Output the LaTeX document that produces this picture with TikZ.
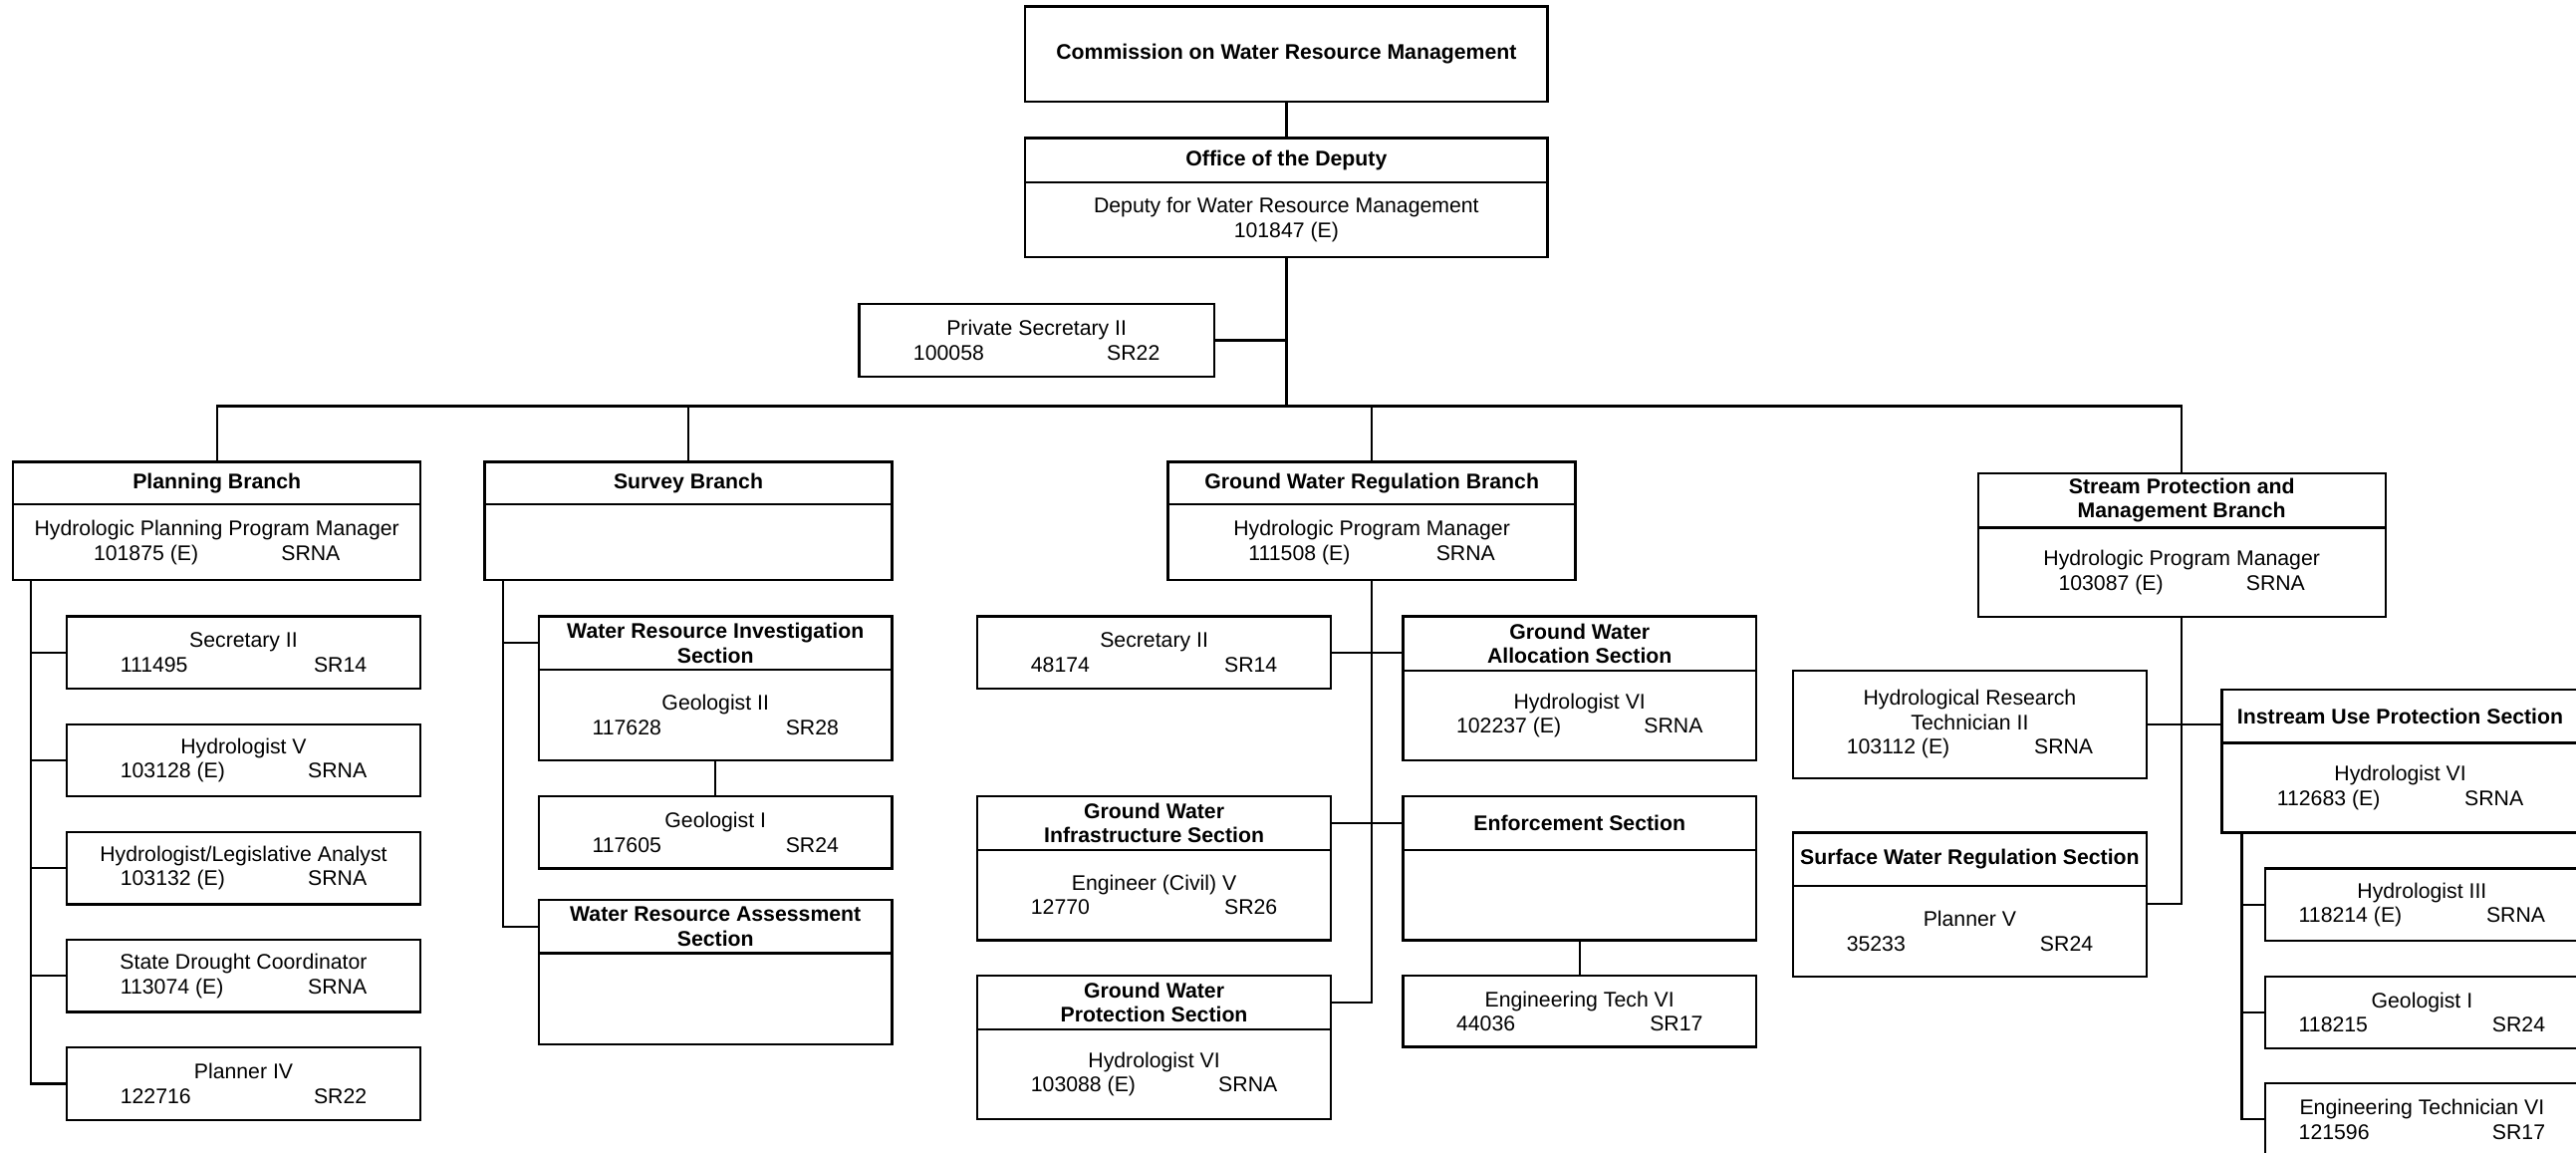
\documentclass[tikz,border=0pt]{standalone}
\usepackage{fontspec}
\setmainfont{Liberation Sans}
\usetikzlibrary{positioning}
\newlength\upx
\setlength\upx{0.03cm}
\newcommand{\chartfont}{\fontsize{11pt}{12.7pt}\selectfont}
\newcommand{\codes}[2]{\makebox[150\upx]{#1\hfill#2}}
\tikzset{
  box/.style={draw, line width=1.2pt, inner sep=0pt, outer sep=0pt, align=center, anchor=north west, font=\chartfont},
  head/.style={box, font=\chartfont\bfseries},
  link/.style={line width=1.2pt},
}

\begin{document}
\begin{tikzpicture}[x=0.03cm, y=-0.03cm]
    \useasboundingbox (0,0) rectangle (1568,701.5);
    \clip (0,0) rectangle (1568,701.5);

    % top of the chart
    \node[head, minimum width=318*\upx, minimum height=58*\upx] (cwrm) at (624,4) {Commission on Water Resource Management};
    \node[head, minimum width=318*\upx, minimum height=27*\upx] (odep) at (624,84) {Office of the Deputy};
    \node[box, minimum width=318*\upx, minimum height=45.5*\upx, below=0pt of odep] (dep) {Deputy for Water Resource Management\\101847 (E)};
    \node[box, minimum width=216*\upx, minimum height=44*\upx] (psec) at (523,185) {Private Secretary II\\\codes{100058}{SR22}};
    \coordinate (bus) at ([yshift=-90.5*\upx]dep.south);

    % branches
    \node[head, minimum width=248*\upx, minimum height=26*\upx] (plan) at (8,281) {Planning Branch};
    \node[box, minimum width=248*\upx, minimum height=46*\upx, below=0pt of plan] (planpm) {Hydrologic Planning Program Manager\\\codes{101875 (E)}{SRNA}};
    \node[head, minimum width=248*\upx, minimum height=26*\upx] (survey) at (295,281) {Survey Branch};
    \node[box, minimum width=248*\upx, minimum height=46*\upx, below=0pt of survey] (surveypm) {};
    \node[head, minimum width=248*\upx, minimum height=26*\upx] (gwr) at (711,281) {Ground Water Regulation Branch};
    \node[box, minimum width=248*\upx, minimum height=46*\upx, below=0pt of gwr] (gwrpm) {Hydrologic Program Manager\\\codes{111508 (E)}{SRNA}};
    \node[head, minimum width=248*\upx, minimum height=33*\upx] (stream) at (1204,288) {Stream Protection and\\Management Branch};
    \node[box, minimum width=248*\upx, minimum height=54.5*\upx, below=0pt of stream] (streampm) {Hydrologic Program Manager\\\codes{103087 (E)}{SRNA}};

    \draw[link] (cwrm.south) -- (odep.north);
    \draw[link] (dep.south) -- (bus);
    \draw[link] (psec.east) -- (psec.east -| bus);
    \draw[link] (plan.north) |- (bus) -| (stream.north);
    \draw[link] (survey.north) -- (survey.north |- bus);
    \draw[link] (gwr.north) -- (gwr.north |- bus);

    % planning branch
    \foreach \k/\ttl/\num/\grd in {0/Secretary II/111495/SR14,
        1/Hydrologist V/103128 (E)/SRNA,
        2/{Hydrologist/Legislative Analyst}/103132 (E)/SRNA,
        3/State Drought Coordinator/113074 (E)/SRNA,
        4/Planner IV/122716/SR22} {
        \node[box, minimum width=215.5*\upx, minimum height=44*\upx] (pc\k) at (40.5, 375+65.6*\k) {\ttl\\\codes{\num}{\grd}};
    }
    \coordinate (ptrunk) at ([xshift=11*\upx]planpm.south west);
    \draw[link] (ptrunk) |- (pc4.west);
    \foreach \k in {0,...,3} {
        \draw[link] (pc\k.west) -- (pc\k.west -| ptrunk);
    }

    % survey branch
    \node[head, minimum width=215*\upx, minimum height=32.5*\upx] (wri) at (328,375) {Water Resource Investigation\\Section};
    \node[box, minimum width=215*\upx, minimum height=55*\upx, below=0pt of wri] (wripm) {Geologist II\\\codes{117628}{SR28}};
    \node[box, minimum width=215*\upx, minimum height=44*\upx] (geoi) at (328,484.5) {Geologist I\\\codes{117605}{SR24}};
    \node[head, minimum width=215*\upx, minimum height=32.5*\upx] (wra) at (328,547.5) {Water Resource Assessment\\Section};
    \node[box, minimum width=215*\upx, minimum height=55.5*\upx, below=0pt of wra] (wrapm) {};
    \coordinate (strunk) at ([xshift=11*\upx]surveypm.south west);
    \draw[link] (strunk) |- (wra.west);
    \draw[link] (wri.west) -- (wri.west -| strunk);
    \draw[link] (wripm.south) -- (geoi.north);

    % ground water regulation branch
    \node[box, minimum width=215*\upx, minimum height=44*\upx] (gwsec) at (595,375) {Secretary II\\\codes{48174}{SR14}};
    \node[head, minimum width=215*\upx, minimum height=32.5*\upx] (gwinfra) at (595,484.5) {Ground Water\\Infrastructure Section};
    \node[box, minimum width=215*\upx, minimum height=55*\upx, below=0pt of gwinfra] (gwinfrapm) {Engineer (Civil) V\\\codes{12770}{SR26}};
    \node[head, minimum width=215*\upx, minimum height=33*\upx] (gwprot) at (595,593.5) {Ground Water\\Protection Section};
    \node[box, minimum width=215*\upx, minimum height=54.5*\upx, below=0pt of gwprot] (gwprotpm) {Hydrologist VI\\\codes{103088 (E)}{SRNA}};
    \node[head, minimum width=215*\upx, minimum height=33*\upx] (gwalloc) at (854,375) {Ground Water\\Allocation Section};
    \node[box, minimum width=215*\upx, minimum height=54.5*\upx, below=0pt of gwalloc] (gwallocpm) {Hydrologist VI\\\codes{102237 (E)}{SRNA}};
    \node[head, minimum width=215*\upx, minimum height=32.5*\upx] (gwenf) at (854,484.5) {Enforcement Section};
    \node[box, minimum width=215*\upx, minimum height=55*\upx, below=0pt of gwenf] (gwenfpm) {};
    \node[box, minimum width=215*\upx, minimum height=43.5*\upx] (engtech) at (854,593.5) {Engineering Tech VI\\\codes{44036}{SR17}};
    \draw[link] (gwrpm.south) |- (gwprot.east);
    \draw[link] (gwsec.east) -- (gwsec.east -| gwalloc.west);
    \draw[link] (gwinfra.east) -- (gwenf.west);
    \draw[link] (gwenfpm.south) -- (engtech.north);

    % stream protection and management branch
    \node[box, minimum width=215*\upx, minimum height=65.5*\upx] (hrt) at (1091.5,408) {Hydrological Research\\Technician II\\\codes{103112 (E)}{SRNA}};
    \node[head, minimum width=215*\upx, minimum height=32.5*\upx] (swr) at (1091.5,506.5) {Surface Water Regulation Section};
    \node[box, minimum width=215*\upx, minimum height=55*\upx, below=0pt of swr] (swrpm) {Planner V\\\codes{35233}{SR24}};
    \node[head, minimum width=217*\upx, minimum height=32.5*\upx] (instream) at (1352.5,419.5) {Instream Use Protection Section};
    \node[box, minimum width=217*\upx, minimum height=54.5*\upx, below=0pt of instream] (instreampm) {Hydrologist VI\\\codes{112683 (E)}{SRNA}};
    \draw[link] (streampm.south) |- ([yshift=-11*\upx]swrpm.north east);
    \draw[link] (hrt.east) -- (hrt.east -| instream.west);

    \foreach \k/\top/\ttl/\num/\grd in {0/528.5/Hydrologist III/118214 (E)/SRNA,
        1/594/Geologist I/118215/SR24,
        2/659/Engineering Technician VI/121596/SR17} {
        \node[box, minimum width=190.5*\upx, minimum height=44*\upx] (ic\k) at (1379,\top) {\ttl\\\codes{\num}{\grd}};
    }
    \coordinate (itrunk) at ([xshift=12*\upx]instreampm.south west);
    \draw[link] (itrunk) |- (ic2.west);
    \foreach \k in {0,1} {
        \draw[link] (ic\k.west) -- (ic\k.west -| itrunk);
    }
\end{tikzpicture}
\end{document}
